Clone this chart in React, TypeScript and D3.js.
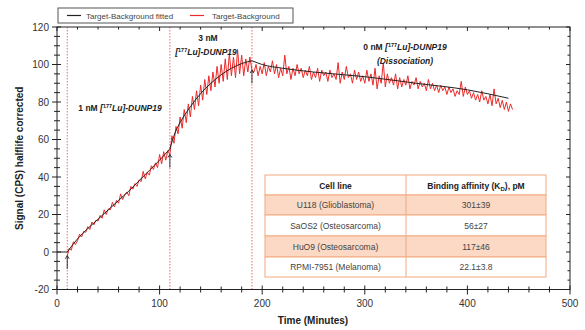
import * as React from 'react';
import * as d3 from 'd3';

const xTicks = [0, 100, 200, 300, 400, 500];
const yTicks = [-20, 0, 20, 40, 60, 80, 100, 120];
const injections = [10, 110, 190];

// fitted curve, [minutes, signal]
const fitBase = [[0, 0], [10, 0]];
const fitPhase1 = [[10, 0], [20, 7], [30, 12.5], [40, 17.5], [50, 22.5], [60, 27.5], [70, 32.5], [80, 38], [90, 43.5], [100, 49], [110, 55]];
const fitPhase2 = [[110, 55], [115, 63.5], [120, 69], [130, 77.5], [140, 84.5], [150, 90], [160, 94.5], [170, 98], [180, 100.5], [190, 102]];
const fitPhase3 = [[190, 102], [200, 100], [220, 98], [250, 96], [300, 93.5], [350, 90], [400, 86.5], [440, 82]];

// measured signal every 2 minutes
const step = 2;
const red1Start = 10;
const red1 = [-2, 2, 1, 5.5, 4, 6, 9.5, 8, 11, 10.5, 13.5, 12, 16, 14.5, 17, 16.5, 19.5, 18, 22.5, 20, 23, 22.5, 26.5, 24, 27.5, 26, 31, 28, 30.5, 32, 30, 35, 33.5, 36.5, 35, 38.5, 37.5, 43, 39, 42.5, 41, 46, 44, 47.5, 45, 52, 47, 53.5, 49, 54, 52];
const red2Start = 112;
const red2 = [62, 58, 67, 63, 72, 66, 76, 69, 79, 72, 83, 76, 86, 78, 89, 81, 92, 84, 94, 86, 96, 88, 99, 90, 100, 91, 103, 92, 106, 94, 104, 93, 108, 95, 105, 94, 103, 96, 104, 97];
const red3Start = 192;
const red3 = [96, 100, 94, 99, 95, 101, 94, 99, 96, 102, 95, 100, 93, 98, 94, 105, 95, 99, 92, 98, 94, 100, 95, 98, 93, 97, 94, 99, 92, 96, 93, 98, 91, 97, 94, 96, 91, 97, 93, 95, 92, 101, 90, 96, 92, 99, 93, 95, 90, 97, 92, 96, 91, 94, 90, 97, 91, 95, 89, 98, 87, 94, 90, 101, 88, 95, 90, 93, 89, 95, 87, 93, 88, 92, 89, 94, 87, 91, 89, 93, 87, 91, 88, 90, 86, 92, 87, 90, 86, 89, 85, 89, 86, 88, 84, 88, 85, 87, 83, 86, 84, 91, 83, 88, 84, 86, 82, 85, 81, 84, 80, 86, 81, 83, 79, 84, 78, 87, 79, 82, 77, 81, 76, 80, 75, 79, 76];

// arrows [minutes, from, to]
const arrows = [[10, -9, -2], [110, 45, 52], [190, 90, 97]];

const cellLines = ['U118 (Glioblastoma)', 'SaOS2 (Osteosarcoma)', 'HuO9 (Osteosarcoma)', 'RPMI-7951 (Melanoma)'];
const affinities = ['301±39', '56±27', '117±46', '22.1±3.8'];

const App = () => {
  const ref = React.useRef<SVGSVGElement>(null);

  React.useEffect(() => {
    const svg = d3.select(ref.current);
    svg.selectAll('*').remove();
    const left = 57, right = 570, top = 27, bottom = 289.5;
    const x = d3.scaleLinear().domain([0, 500]).range([left, right]);
    const y = d3.scaleLinear().domain([-20, 120]).range([bottom, top]);
    const font = 'Arial, "Liberation Sans", sans-serif';

    // table
    const tl = 265, tr = 546, tm = 406;
    const rowEdges = [175, 195, 215, 236, 257, 277];
    const tg = svg.append('g').attr('font-family', font).attr('font-size', 8.5).attr('text-anchor', 'middle');
    rowEdges.slice(0, -1).forEach((r, i) => {
      tg.append('rect').attr('x', tl).attr('y', r).attr('width', tr - tl).attr('height', rowEdges[i + 1] - r)
        .attr('fill', i % 2 === 1 ? '#fbd9c5' : '#fff').attr('stroke', '#f2aa80').attr('stroke-width', 1);
    });
    tg.append('line').attr('x1', tm).attr('x2', tm).attr('y1', rowEdges[0]).attr('y2', rowEdges[5]).attr('stroke', '#f2aa80');
    tg.append('text').attr('x', (tl + tm) / 2).attr('y', 189).attr('font-weight', 'bold').attr('fill', '#222').text('Cell line');
    const hd = tg.append('text').attr('x', (tm + tr) / 2).attr('y', 189).attr('font-weight', 'bold').attr('fill', '#222');
    hd.append('tspan').text('Binding affinity (K');
    hd.append('tspan').attr('font-size', 6).attr('dy', 2).text('D');
    hd.append('tspan').attr('dy', -2).text('), pM');
    cellLines.forEach((c, i) => {
      const cy = (rowEdges[i + 1] + rowEdges[i + 2]) / 2 + 3;
      tg.append('text').attr('x', (tl + tm) / 2).attr('y', cy).attr('fill', '#444').text(c);
      tg.append('text').attr('x', (tm + tr) / 2).attr('y', cy).attr('fill', '#444').text(affinities[i]);
    });

    // injection markers
    svg.append('g').selectAll('line').data(injections).enter().append('line')
      .attr('x1', d => x(d)).attr('x2', d => x(d)).attr('y1', top).attr('y2', bottom)
      .attr('stroke', '#ef6a6a').attr('stroke-width', 1).attr('stroke-dasharray', '1.5,1.5');

    // measured
    const line = d3.line<number[]>().x(d => x(d[0])).y(d => y(d[1]));
    const toPts = (start: number, vals: number[]) => vals.map((v, i) => [start + i * step, v]);
    const measured = [...toPts(red1Start, red1), ...toPts(red2Start, red2), ...toPts(red3Start, red3)];
    svg.append('path').attr('d', line(measured)).attr('fill', 'none').attr('stroke', '#ec2a2a').attr('stroke-width', 1);

    // fitted
    const smooth = d3.line<number[]>().x(d => x(d[0])).y(d => y(d[1])).curve(d3.curveMonotoneX);
    [fitBase, fitPhase1, fitPhase2, fitPhase3].forEach(seg => {
      svg.append('path').attr('d', smooth(seg)).attr('fill', 'none').attr('stroke', '#222').attr('stroke-width', 1);
    });

    // arrows
    arrows.forEach(([t, a, b]) => {
      svg.append('line').attr('x1', x(t)).attr('x2', x(t)).attr('y1', y(a)).attr('y2', y(b)).attr('stroke', '#222').attr('stroke-width', 0.9);
      svg.append('path').attr('d', `M${x(t) - 2},${y(b) + 3}L${x(t)},${y(b)}L${x(t) + 2},${y(b) + 3}`)
        .attr('fill', 'none').attr('stroke', '#222').attr('stroke-width', 0.9);
    });

    // frame and ticks
    const ax = svg.append('g').attr('stroke', '#222').attr('stroke-width', 1);
    ax.append('rect').attr('x', left).attr('y', top).attr('width', right - left).attr('height', bottom - top).attr('fill', 'none');
    d3.range(-20, 121, 5).forEach(v => {
      const major = v % 20 === 0;
      ax.append('line').attr('x1', left - (major ? 5 : 3)).attr('x2', left + (major ? 4 : 3)).attr('y1', y(v)).attr('y2', y(v));
      ax.append('line').attr('x1', right - (major ? 4 : 2.5)).attr('x2', right).attr('y1', y(v)).attr('y2', y(v));
    });
    d3.range(0, 501, 20).forEach(v => {
      const major = v % 100 === 0;
      ax.append('line').attr('x1', x(v)).attr('x2', x(v)).attr('y1', bottom - (major ? 4 : 3)).attr('y2', bottom + (major ? 5 : 3));
      ax.append('line').attr('x1', x(v)).attr('x2', x(v)).attr('y1', top).attr('y2', top + (major ? 4 : 2.5));
    });

    const lab = svg.append('g').attr('font-family', font).attr('font-size', 10).attr('fill', '#333');
    yTicks.forEach(v => {
      lab.append('text').attr('x', left - 8).attr('y', y(v) + 3.5).attr('text-anchor', 'end').text(v);
    });
    xTicks.forEach(v => {
      lab.append('text').attr('x', x(v)).attr('y', 307).attr('text-anchor', 'middle').text(v);
    });
    lab.append('text').attr('x', 313).attr('y', 324).attr('text-anchor', 'middle').attr('font-weight', 'bold').attr('fill', '#222')
      .text('Time (Minutes)');
    lab.append('text').attr('transform', `translate(23,${(top + bottom) / 2}) rotate(-90)`).attr('text-anchor', 'middle')
      .attr('font-weight', 'bold').attr('fill', '#222').text('Signal (CPS) halflife corrected');

    // annotations
    const ann = svg.append('g').attr('font-family', font).attr('font-size', 8.5).attr('font-weight', 'bold').attr('fill', '#222')
      .attr('text-anchor', 'middle');
    const lu = (sel: any, prefix: string) => {
      if (prefix) sel.append('tspan').text(prefix);
      sel.append('tspan').attr('font-style', 'italic').text('[');
      sel.append('tspan').attr('font-size', 5.5).attr('dy', -3).text('177');
      sel.append('tspan').attr('font-style', 'italic').attr('dy', 3).text('Lu]-DUNP19');
    };
    lu(ann.append('text').attr('x', 120).attr('y', 111), '1 nM ');
    ann.append('text').attr('x', 208).attr('y', 41).text('3 nM');
    lu(ann.append('text').attr('x', 206).attr('y', 55), '');
    lu(ann.append('text').attr('x', 405).attr('y', 50), '0 nM ');
    ann.append('text').attr('x', 405).attr('y', 64).attr('font-style', 'italic').text('(Dissociation)');

    // legend
    const lg = svg.append('g').attr('font-family', font).attr('font-size', 8).attr('fill', '#444');
    lg.append('rect').attr('x', 58).attr('y', 8).attr('width', 235).attr('height', 15).attr('fill', '#fff').attr('stroke', '#555');
    lg.append('line').attr('x1', 67).attr('x2', 81).attr('y1', 15.5).attr('y2', 15.5).attr('stroke', '#222').attr('stroke-width', 1.2);
    lg.append('text').attr('x', 86).attr('y', 18.5).text('Target-Background fitted');
    lg.append('line').attr('x1', 190).attr('x2', 204).attr('y1', 15.5).attr('y2', 15.5).attr('stroke', '#ec2a2a').attr('stroke-width', 1.2);
    lg.append('text').attr('x', 212).attr('y', 18.5).text('Target-Background');
  }, []);

  return <svg ref={ref} width={585} height={330} style={{ position: 'absolute', left: 0, top: 0, background: '#fff' }} />;
};

export default App;
